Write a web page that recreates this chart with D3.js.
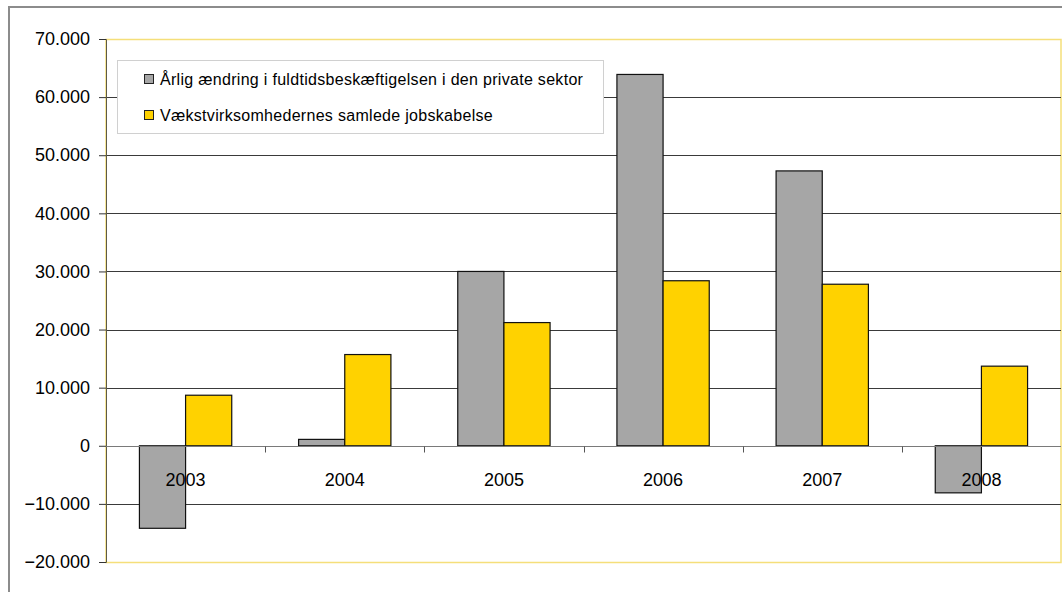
<!DOCTYPE html>
<html>
<head>
<meta charset="utf-8">
<script src="https://cdnjs.cloudflare.com/ajax/libs/d3/7.8.5/d3.min.js"></script>
<style>
  body { margin: 0; background: #fff; }
  text { font-family: "Liberation Sans", Arial, sans-serif; fill: #000; }
</style>
</head>
<body>
<div id="viz"></div>
<script>
var years = ["2003", "2004", "2005", "2006", "2007", "2008"];
var seriesNames = ["Årlig ændring i fuldtidsbeskæftigelsen i den private sektor",
                   "Vækstvirksomhedernes samlede jobskabelse"];
var privateChange = [-14200, 1100, 30000, 63900, 47300, -8100];
var growthJobs = [8700, 15700, 21200, 28400, 27800, 13700];
var yTicks = [-20000, -10000, 0, 10000, 20000, 30000, 40000, 50000, 60000, 70000];
var colors = ["#a6a6a6", "#ffd200"];

var w = 1062, h = 592;
var plotL = 106, plotR = 1061, plotT = 39, plotB = 562;

var svg = d3.select("#viz").append("svg")
  .attr("width", w)
  .attr("height", h);

// outer chart frame
svg.append("rect")
  .attr("x", 9).attr("y", 7)
  .attr("width", 1200).attr("height", 800)
  .attr("fill", "#fff")
  .attr("stroke", "#8c8c8c")
  .attr("stroke-width", 2);

var x = d3.scaleBand().domain(years).range([plotL, plotR]);
var y = d3.scaleLinear().domain([-20000, 70000]).range([plotB, plotT]);

// plot area border (yellow)
svg.append("rect")
  .attr("x", plotL).attr("y", plotT + 0.5)
  .attr("width", plotR - plotL).attr("height", plotB - plotT)
  .attr("fill", "none")
  .attr("stroke", "#f5df7a")
  .attr("stroke-width", 1.5);

// gridlines
svg.selectAll("line.grid")
  .data(yTicks.filter(function(d) { return d != 0 && d != -20000 && d != 70000; }))
  .enter().append("line")
  .attr("class", "grid")
  .attr("x1", plotL).attr("x2", plotR)
  .attr("y1", function(d) { return Math.round(y(d)) + 0.5; })
  .attr("y2", function(d) { return Math.round(y(d)) + 0.5; })
  .attr("stroke", "#3a3a3a")
  .attr("stroke-width", 1);

// bars
var barW = x.bandwidth() * 0.29;
var data = [];
years.forEach(function(yr, i) {
  data.push({year: yr, s: 0, v: privateChange[i]});
  data.push({year: yr, s: 1, v: growthJobs[i]});
});

svg.selectAll("rect.bar")
  .data(data)
  .enter().append("rect")
  .attr("class", "bar")
  .attr("x", function(d) { return x(d.year) + x.bandwidth() / 2 - barW + d.s * barW; })
  .attr("width", barW)
  .attr("y", function(d) { return y(Math.max(0, d.v)); })
  .attr("height", function(d) { return Math.abs(y(d.v) - y(0)); })
  .attr("fill", function(d) { return colors[d.s]; })
  .attr("stroke", "#111")
  .attr("stroke-width", 1.2);

// y axis
var yAxis = svg.append("g")
  .attr("transform", "translate(" + plotL + ",0)")
  .call(d3.axisLeft(y).tickValues(yTicks).tickSize(7).tickPadding(9)
    .tickFormat(function(d) { return d3.format(",")(d).replace(/,/g, "."); }));
yAxis.select(".domain").attr("stroke", "#5f5a45");
yAxis.selectAll(".tick line").attr("stroke", "#333");
yAxis.selectAll("text")
  .style("font-family", "'Liberation Sans', Arial, sans-serif")
  .style("font-size", "18px")
  .attr("fill", "#000");

// zero axis with category ticks
var zeroY = Math.round(y(0)) + 0.5;
svg.append("line")
  .attr("x1", plotL).attr("x2", plotR)
  .attr("y1", zeroY).attr("y2", zeroY)
  .attr("stroke", "#7a7a7a")
  .attr("stroke-width", 1.2);

svg.selectAll("line.cattick")
  .data(years.slice(1))
  .enter().append("line")
  .attr("class", "cattick")
  .attr("x1", function(d) { return Math.round(x(d)) + 0.5; })
  .attr("x2", function(d) { return Math.round(x(d)) + 0.5; })
  .attr("y1", zeroY).attr("y2", zeroY + 6)
  .attr("stroke", "#555");

svg.selectAll("text.cat")
  .data(years)
  .enter().append("text")
  .attr("class", "cat")
  .attr("x", function(d) { return x(d) + x.bandwidth() / 2; })
  .attr("y", 486)
  .attr("text-anchor", "middle")
  .style("font-size", "18px")
  .text(function(d) { return d; });

// legend
var legend = svg.append("g");
legend.append("rect")
  .attr("x", 117.5).attr("y", 60.5)
  .attr("width", 486).attr("height", 73)
  .attr("fill", "#fff")
  .attr("stroke", "#d0d0d0");

var items = legend.selectAll("g.item")
  .data(seriesNames)
  .enter().append("g")
  .attr("class", "item")
  .attr("transform", function(d, i) { return "translate(144," + (74 + i * 36) + ")"; });

items.append("rect")
  .attr("x", 0.5).attr("y", 0.5)
  .attr("width", 9).attr("height", 9)
  .attr("fill", function(d, i) { return colors[i]; })
  .attr("stroke", "#222");

items.append("text")
  .attr("x", 16)
  .attr("y", 11)
  .style("font-size", "16px")
  .style("letter-spacing", "0.3px")
  .text(function(d) { return d; });
</script>
</body>
</html>
